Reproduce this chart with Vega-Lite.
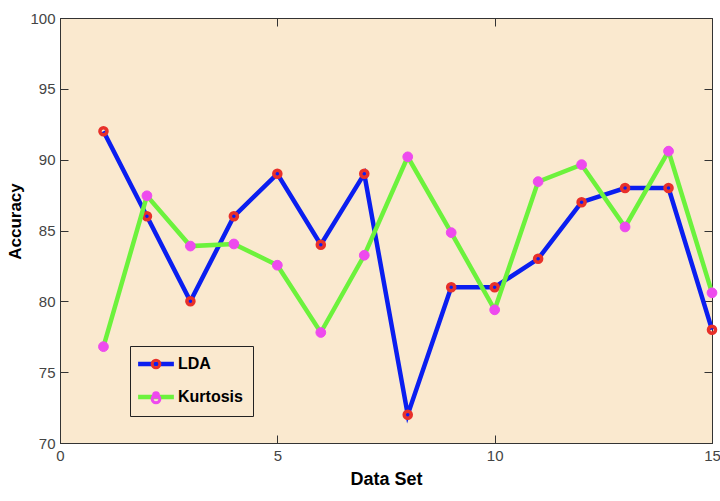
{
  "$schema": "https://vega.github.io/schema/vega-lite/v6.json",
  "width": 652,
  "height": 425,
  "autosize": {"type": "none"},
  "padding": {"left": 60, "top": 18, "right": 8, "bottom": 58},
  "background": "white",
  "config": {
    "view": {"fill": "#FAE9CF", "stroke": "#333333", "strokeWidth": 1},
    "axis": {
      "domainColor": "#333333",
      "tickColor": "#333333",
      "labelColor": "#444444",
      "labelFont": "Liberation Sans, Arial, sans-serif",
      "labelFontSize": 15,
      "grid": false,
      "tickSize": -8,
      "labelPadding": 13,
      "labelFlush": false,
      "titleFont": "Liberation Sans, Arial, sans-serif",
      "titleFontWeight": "bold",
      "titleColor": "black"
    }
  },
  "data": {
    "values": [
      {"x": 1, "series": "LDA", "value": 92},
      {"x": 2, "series": "LDA", "value": 86},
      {"x": 3, "series": "LDA", "value": 80},
      {"x": 4, "series": "LDA", "value": 86},
      {"x": 5, "series": "LDA", "value": 89},
      {"x": 6, "series": "LDA", "value": 84},
      {"x": 7, "series": "LDA", "value": 89},
      {"x": 8, "series": "LDA", "value": 72},
      {"x": 9, "series": "LDA", "value": 81},
      {"x": 10, "series": "LDA", "value": 81},
      {"x": 11, "series": "LDA", "value": 83},
      {"x": 12, "series": "LDA", "value": 87},
      {"x": 13, "series": "LDA", "value": 88},
      {"x": 14, "series": "LDA", "value": 88},
      {"x": 15, "series": "LDA", "value": 78},
      {"x": 1, "series": "Kurtosis", "value": 76.8},
      {"x": 2, "series": "Kurtosis", "value": 87.45},
      {"x": 3, "series": "Kurtosis", "value": 83.9},
      {"x": 4, "series": "Kurtosis", "value": 84.05},
      {"x": 5, "series": "Kurtosis", "value": 82.55},
      {"x": 6, "series": "Kurtosis", "value": 77.8},
      {"x": 7, "series": "Kurtosis", "value": 83.25},
      {"x": 8, "series": "Kurtosis", "value": 90.2},
      {"x": 9, "series": "Kurtosis", "value": 84.85},
      {"x": 10, "series": "Kurtosis", "value": 79.4},
      {"x": 11, "series": "Kurtosis", "value": 88.45},
      {"x": 12, "series": "Kurtosis", "value": 89.65},
      {"x": 13, "series": "Kurtosis", "value": 85.25},
      {"x": 14, "series": "Kurtosis", "value": 90.6},
      {"x": 15, "series": "Kurtosis", "value": 80.6}
    ]
  },
  "layer": [
    {
      "transform": [{"filter": "datum.series === 'LDA'"}],
      "mark": {"type": "line", "strokeWidth": 4.5},
      "encoding": {
        "x": {"field": "x", "type": "quantitative", "scale": {"domain": [0, 15], "nice": false},
              "axis": {"orient": "bottom", "values": [0, 5, 10, 15], "title": "Data Set",
                       "titleFontSize": 18, "titlePadding": 7}},
        "y": {"field": "value", "type": "quantitative", "scale": {"domain": [70, 100], "nice": false, "zero": false},
              "axis": {"orient": "left", "values": [70, 75, 80, 85, 90, 95, 100], "title": "Accuracy",
                       "titleFontSize": 17, "titlePadding": 5, "titleY": 203}},
        "order": {"field": "x"},
        "color": {"field": "series", "type": "nominal",
                  "scale": {"domain": ["LDA", "Kurtosis"], "range": ["#0A1EF0", "#6CF23C"]},
                  "legend": {"orient": "none", "legendX": 70, "legendY": 328, "title": null,
                             "symbolType": "M-4,0H4", "symbolSize": 80, "symbolStrokeWidth": 4.5,
                             "symbolOffset": 8,
                             "labelFont": "Liberation Sans, Arial, sans-serif",
                             "labelFontSize": 16, "labelFontWeight": "bold", "labelColor": "black",
                             "labelOffset": 14, "padding": 10, "rowPadding": 15,
                             "strokeColor": "#222222", "fillColor": "#FAE9CF"}}
      }
    },
    {
      "transform": [{"filter": "datum.series === 'LDA'"}],
      "mark": {"type": "point", "shape": "circle", "filled": true, "size": 50, "strokeWidth": 3.5, "opacity": 1},
      "encoding": {
        "x": {"field": "x", "type": "quantitative",
              "axis": {"orient": "top", "values": [0, 5, 10, 15], "labels": false, "title": null, "domain": false}},
        "y": {"field": "value", "type": "quantitative",
              "axis": {"orient": "right", "values": [70, 75, 80, 85, 90, 95, 100], "labels": false, "title": null, "domain": false}},
        "fill": {"field": "series", "type": "nominal", "sort": ["LDA", "Kurtosis"],
                 "scale": {"range": ["rgba(0,0,0,0)", "#EE4AEE"]},
                 "legend": {"orient": "none", "legendX": 70, "legendY": 328, "title": null,
                            "symbolType": "circle", "symbolSize": 60, "symbolStrokeWidth": 3,
                            "symbolOffset": 8, "symbolFillColor": "transparent",
                            "labelFont": "Liberation Sans, Arial, sans-serif",
                            "labelFontSize": 16, "labelFontWeight": "bold", "labelColor": "rgba(0,0,0,0)",
                            "labelExpr": "''",
                            "labelOffset": 14, "padding": 10, "rowPadding": 15}},
        "stroke": {"field": "series", "type": "nominal", "sort": ["LDA", "Kurtosis"],
                   "scale": {"range": ["#E8302A", "#EE4AEE"]},
                   "legend": {"orient": "none", "legendX": 70, "legendY": 328, "title": null,
                              "symbolType": "circle", "symbolSize": 60, "symbolStrokeWidth": 3,
                              "symbolOffset": 8, "symbolFillColor": "transparent",
                              "labelFont": "Liberation Sans, Arial, sans-serif",
                              "labelFontSize": 16, "labelFontWeight": "bold", "labelColor": "rgba(0,0,0,0)",
                              "labelExpr": "''",
                              "labelOffset": 14, "padding": 10, "rowPadding": 15}}
      }
    },
    {
      "transform": [{"filter": "datum.series === 'Kurtosis'"}],
      "mark": {"type": "line", "strokeWidth": 4.5},
      "encoding": {
        "x": {"field": "x", "type": "quantitative", "axis": null},
        "y": {"field": "value", "type": "quantitative", "axis": null},
        "order": {"field": "x"},
        "color": {"field": "series", "type": "nominal"}
      }
    },
    {
      "transform": [{"filter": "datum.series === 'Kurtosis'"}],
      "mark": {"type": "point", "shape": "circle", "filled": true, "size": 95, "strokeWidth": 1, "opacity": 1},
      "encoding": {
        "x": {"field": "x", "type": "quantitative", "axis": null},
        "y": {"field": "value", "type": "quantitative", "axis": null},
        "fill": {"field": "series", "type": "nominal", "sort": ["LDA", "Kurtosis"]},
        "stroke": {"field": "series", "type": "nominal", "sort": ["LDA", "Kurtosis"]}
      }
    }
  ],
  "resolve": {"axis": {"x": "independent", "y": "independent"}}
}
